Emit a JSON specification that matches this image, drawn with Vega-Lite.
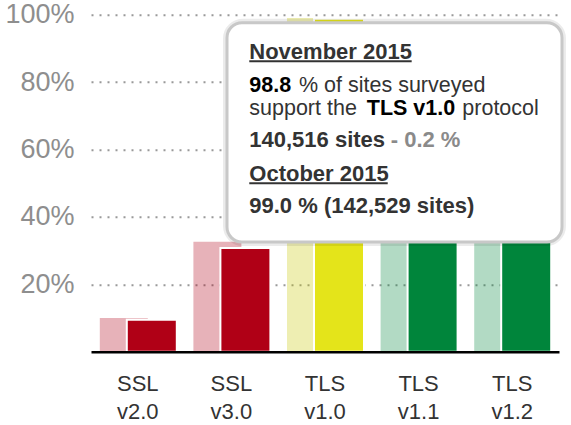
{
  "$schema": "https://vega.github.io/schema/vega-lite/v6.json",
  "width": 468,
  "height": 337,
  "autosize": "none",
  "padding": {"left": 91, "top": 14.7, "right": 12, "bottom": 73.3},
  "config": {"view": {"stroke": null}, "font": "Liberation Sans"},
  "layer": [
    {
      "data": {
        "values": [
          {"protocol": "SSL v2.0", "month": "October 2015", "percent": 10.0},
          {"protocol": "SSL v2.0", "month": "November 2015", "percent": 9.5},
          {"protocol": "SSL v3.0", "month": "October 2015", "percent": 32.6},
          {"protocol": "SSL v3.0", "month": "November 2015", "percent": 30.8},
          {"protocol": "TLS v1.0", "month": "October 2015", "percent": 99.0},
          {"protocol": "TLS v1.0", "month": "November 2015", "percent": 98.8},
          {"protocol": "TLS v1.1", "month": "October 2015", "percent": 66.0},
          {"protocol": "TLS v1.1", "month": "November 2015", "percent": 67.2},
          {"protocol": "TLS v1.2", "month": "October 2015", "percent": 68.4},
          {"protocol": "TLS v1.2", "month": "November 2015", "percent": 69.6}
        ]
      },
      "encoding": {
        "x": {
          "field": "protocol",
          "type": "nominal",
          "sort": ["SSL v2.0", "SSL v3.0", "TLS v1.0", "TLS v1.1", "TLS v1.2"],
          "scale": {"paddingInner": 0, "paddingOuter": 0},
          "axis": {
            "title": null,
            "labelAngle": 0,
            "labelExpr": "split(datum.label, ' ')",
            "labelFontSize": 22,
            "labelColor": "#333333",
            "labelLineHeight": 28,
            "labelPadding": 22,
            "ticks": false,
            "domainColor": "#000000",
            "domainWidth": 2.5,
            "zindex": 1
          }
        },
        "y": {
          "field": "percent",
          "type": "quantitative",
          "scale": {"domain": [0, 100]},
          "axis": {
            "title": null,
            "values": [20, 40, 60, 80, 100],
            "labelExpr": "datum.value + '%'",
            "labelFontSize": 27,
            "labelColor": "#8e8e8e",
            "labelPadding": 17,
            "domain": false,
            "ticks": false,
            "gridColor": "#999999",
            "gridDash": [2, 6],
            "gridWidth": 2
          }
        }
      },
      "layer": [
        {
          "transform": [{"filter": "datum.month == 'October 2015'"}],
          "mark": {"type": "bar", "width": 48, "xOffset": -14, "opacity": 0.3},
          "encoding": {
            "color": {
              "field": "protocol",
              "type": "nominal",
              "scale": {
                "domain": ["SSL v2.0", "SSL v3.0", "TLS v1.0", "TLS v1.1", "TLS v1.2"],
                "range": ["#b00016", "#b00016", "#c6c600", "#00853b", "#00853b"]
              },
              "legend": null
            }
          }
        },
        {
          "transform": [{"filter": "datum.month == 'November 2015'"}],
          "mark": {"type": "bar", "width": 50, "xOffset": 14, "stroke": "white", "strokeWidth": 2},
          "encoding": {
            "color": {
              "field": "protocol",
              "type": "nominal",
              "scale": {
                "domain": ["SSL v2.0", "SSL v3.0", "TLS v1.0", "TLS v1.1", "TLS v1.2"],
                "range": ["#b00016", "#b00016", "#e4e41a", "#00853b", "#00853b"]
              },
              "legend": null
            }
          }
        }
      ],
      "resolve": {"scale": {"color": "independent"}}
    },
    {
      "data": {"values": [{}]},
      "layer": [
        {
          "mark": {"type": "rect", "fill": "white", "stroke": "#000000", "strokeOpacity": 0.08, "strokeWidth": 8, "cornerRadius": 16},
          "encoding": {
            "x": {"datum": 1.453, "type": "quantitative", "scale": {"domain": [0, 5]}, "axis": null},
            "x2": {"datum": 5.032},
            "y": {"datum": 97.63, "type": "quantitative", "axis": null},
            "y2": {"datum": 32.55}
          }
        },
        {
          "mark": {"type": "rect", "fill": "white", "stroke": "#c8c8c8", "strokeWidth": 3, "cornerRadius": 15},
          "encoding": {
            "x": {"datum": 1.453, "type": "quantitative", "scale": {"domain": [0, 5]}, "axis": null},
            "x2": {"datum": 5.032},
            "y": {"datum": 97.63, "type": "quantitative", "axis": null},
            "y2": {"datum": 32.55}
          }
        },
        {
          "mark": {"type": "text", "text": "November 2015", "align": "left", "baseline": "alphabetic", "fontSize": 22, "fontWeight": "bold", "color": "#333333"},
          "encoding": {
            "x": {"datum": 1.691, "type": "quantitative", "scale": {"domain": [0, 5]}, "axis": null},
            "y": {"datum": 86.85, "type": "quantitative", "axis": null}
          }
        },
        {
          "mark": {"type": "rule", "color": "#333333", "strokeWidth": 2},
          "encoding": {
            "x": {"datum": 1.691, "type": "quantitative", "scale": {"domain": [0, 5]}, "axis": null},
            "x2": {"datum": 3.426},
            "y": {"datum": 86.2, "type": "quantitative", "axis": null}
          }
        },
        {
          "mark": {"type": "text", "text": "98.8", "align": "left", "baseline": "alphabetic", "fontSize": 21.5, "fontWeight": "bold", "color": "#000000"},
          "encoding": {
            "x": {"datum": 1.691, "type": "quantitative", "scale": {"domain": [0, 5]}, "axis": null},
            "y": {"datum": 77.2, "type": "quantitative", "axis": null}
          }
        },
        {
          "mark": {"type": "text", "text": "% of sites surveyed", "align": "left", "baseline": "alphabetic", "fontSize": 21.5, "color": "#333333"},
          "encoding": {
            "x": {"datum": 2.222, "type": "quantitative", "scale": {"domain": [0, 5]}, "axis": null},
            "y": {"datum": 77.2, "type": "quantitative", "axis": null}
          }
        },
        {
          "mark": {"type": "text", "text": "support the", "align": "left", "baseline": "alphabetic", "fontSize": 21.5, "color": "#333333"},
          "encoding": {
            "x": {"datum": 1.691, "type": "quantitative", "scale": {"domain": [0, 5]}, "axis": null},
            "y": {"datum": 70.2, "type": "quantitative", "axis": null}
          }
        },
        {
          "mark": {"type": "text", "text": "TLS v1.0", "align": "left", "baseline": "alphabetic", "fontSize": 21.5, "fontWeight": "bold", "color": "#000000"},
          "encoding": {
            "x": {"datum": 2.946, "type": "quantitative", "scale": {"domain": [0, 5]}, "axis": null},
            "y": {"datum": 70.2, "type": "quantitative", "axis": null}
          }
        },
        {
          "mark": {"type": "text", "text": "protocol", "align": "left", "baseline": "alphabetic", "fontSize": 21.5, "color": "#333333"},
          "encoding": {
            "x": {"datum": 3.967, "type": "quantitative", "scale": {"domain": [0, 5]}, "axis": null},
            "y": {"datum": 70.2, "type": "quantitative", "axis": null}
          }
        },
        {
          "mark": {"type": "text", "text": "140,516 sites", "align": "left", "baseline": "alphabetic", "fontSize": 22, "fontWeight": "bold", "color": "#333333"},
          "encoding": {
            "x": {"datum": 1.691, "type": "quantitative", "scale": {"domain": [0, 5]}, "axis": null},
            "y": {"datum": 60.74, "type": "quantitative", "axis": null}
          }
        },
        {
          "mark": {"type": "text", "text": "- 0.2 %", "align": "left", "baseline": "alphabetic", "fontSize": 22, "fontWeight": "bold", "color": "#8a8a8a"},
          "encoding": {
            "x": {"datum": 3.202, "type": "quantitative", "scale": {"domain": [0, 5]}, "axis": null},
            "y": {"datum": 60.74, "type": "quantitative", "axis": null}
          }
        },
        {
          "mark": {"type": "text", "text": "October 2015", "align": "left", "baseline": "alphabetic", "fontSize": 22, "fontWeight": "bold", "color": "#333333"},
          "encoding": {
            "x": {"datum": 1.691, "type": "quantitative", "scale": {"domain": [0, 5]}, "axis": null},
            "y": {"datum": 50.65, "type": "quantitative", "axis": null}
          }
        },
        {
          "mark": {"type": "rule", "color": "#333333", "strokeWidth": 2},
          "encoding": {
            "x": {"datum": 1.691, "type": "quantitative", "scale": {"domain": [0, 5]}, "axis": null},
            "x2": {"datum": 3.17},
            "y": {"datum": 50.0, "type": "quantitative", "axis": null}
          }
        },
        {
          "mark": {"type": "text", "text": "99.0 % (142,529 sites)", "align": "left", "baseline": "alphabetic", "fontSize": 22, "fontWeight": "bold", "color": "#333333"},
          "encoding": {
            "x": {"datum": 1.691, "type": "quantitative", "scale": {"domain": [0, 5]}, "axis": null},
            "y": {"datum": 41.15, "type": "quantitative", "axis": null}
          }
        }
      ]
    }
  ],
  "resolve": {"scale": {"x": "independent"}, "axis": {"x": "independent", "y": "independent"}}
}
